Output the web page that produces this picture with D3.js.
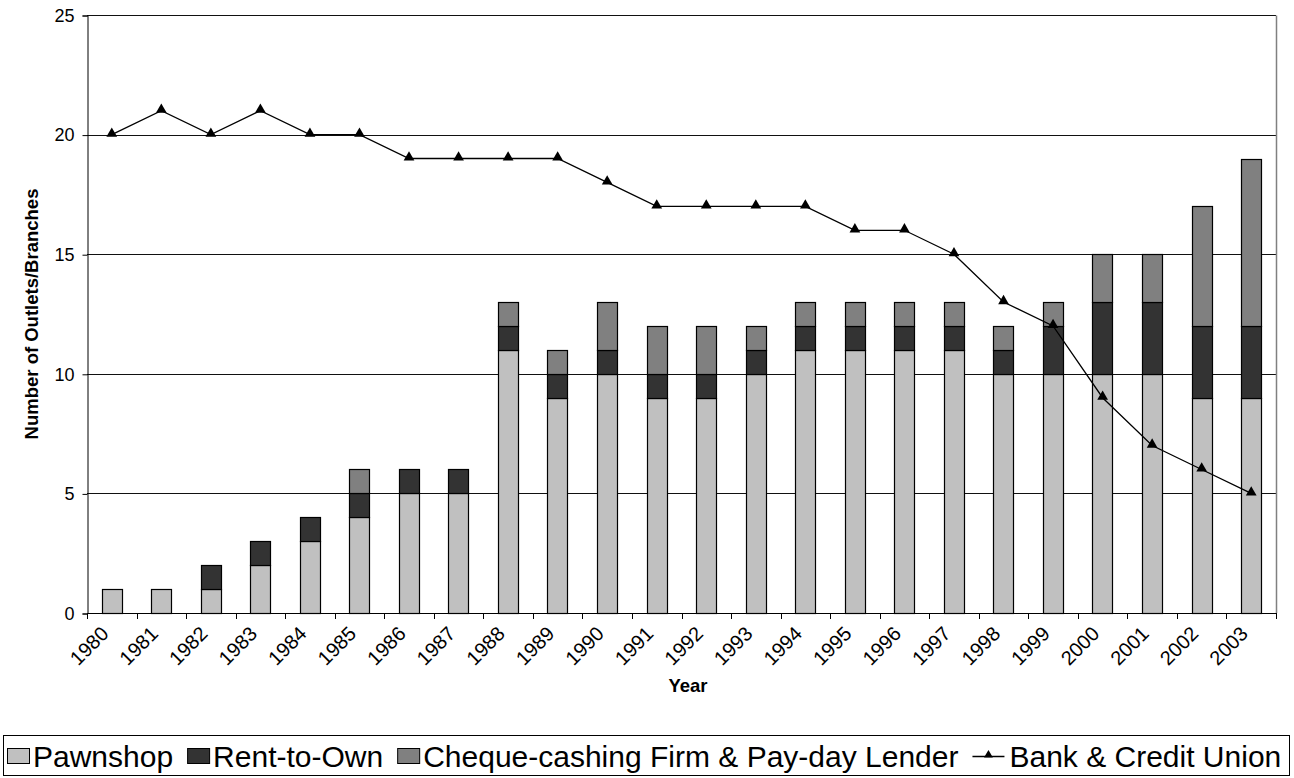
<!DOCTYPE html>
<html>
<head>
<meta charset="utf-8">
<script src="https://cdn.jsdelivr.net/npm/d3@7"></script>
<style>
  html, body { margin: 0; padding: 0; background: #fff; }
  svg { display: block; font-family: "Liberation Sans", Arial, sans-serif; }
</style>
</head>
<body>
<svg id="chart" width="1294" height="778"></svg>
<script>
// Outlets and branches per year
const years = ["1980","1981","1982","1983","1984","1985","1986","1987","1988","1989","1990","1991",
               "1992","1993","1994","1995","1996","1997","1998","1999","2000","2001","2002","2003"];
const pawnshop     = [1, 1, 1, 2, 3, 4, 5, 5, 11, 9, 10, 9, 9, 10, 11, 11, 11, 11, 10, 10, 10, 10, 9, 9];
const rentToOwn    = [0, 0, 1, 1, 1, 1, 1, 1, 1, 1, 1, 1, 1, 1, 1, 1, 1, 1, 1, 2, 3, 3, 3, 3];
const chequeCash   = [0, 0, 0, 0, 0, 1, 0, 0, 1, 1, 2, 2, 2, 1, 1, 1, 1, 1, 1, 1, 2, 2, 5, 7];
const bankCredit   = [20, 21, 20, 21, 20, 20, 19, 19, 19, 19, 18, 17, 17, 17, 17, 16, 16, 15, 13, 12, 9, 7, 6, 5];
const yTicks       = [0, 5, 10, 15, 20, 25];

const seriesNames  = ["Pawnshop", "Rent-to-Own", "Cheque-cashing Firm & Pay-day Lender"];
const lineName     = "Bank & Credit Union";
const fills        = ["#C0C0C0", "#333333", "#808080"];

const svg = d3.select("#chart");
const plot = { left: 87, right: 1276, top: 15, bottom: 613 };

const x = d3.scaleBand().domain(years).range([plot.left, plot.right]).padding(0);
const y = d3.scaleLinear().domain([0, 25]).range([plot.bottom, plot.top]);
const barW = x.bandwidth() * 0.41;

// Horizontal gridlines
svg.append("g").selectAll("line").data(yTicks.filter(d => d > 0)).join("line")
  .attr("x1", plot.left).attr("x2", plot.right)
  .attr("y1", d => Math.round(y(d)) + 0.5).attr("y2", d => Math.round(y(d)) + 0.5)
  .attr("stroke", "#111").attr("stroke-width", 1);

// Right border of plot area
svg.append("line")
  .attr("x1", plot.right + 0.5).attr("x2", plot.right + 0.5)
  .attr("y1", Math.round(y(25)) + 0.5).attr("y2", plot.bottom)
  .attr("stroke", "#808080").attr("stroke-width", 1.5);

// Stacked bars
const rows = years.map((yr, i) => ({ year: yr, s0: pawnshop[i], s1: rentToOwn[i], s2: chequeCash[i] }));
const stacked = d3.stack().keys(["s0", "s1", "s2"])(rows);

svg.append("g").selectAll("g").data(stacked).join("g")
  .attr("fill", (d, i) => fills[i])
  .selectAll("rect").data(d => d.filter(p => p[1] - p[0] > 0)).join("rect")
  .attr("x", d => Math.round(x(d.data.year) + (x.bandwidth() - barW) / 2) + 0.5)
  .attr("width", Math.round(barW))
  .attr("y", d => Math.round(y(d[1])) + 0.5)
  .attr("height", d => Math.round(y(d[0])) - Math.round(y(d[1])))
  .attr("stroke", "#000").attr("stroke-width", 1.2);

// Y axis
const yAxis = d3.axisLeft(y).tickValues(yTicks).tickSize(5).tickPadding(8);
const gy = svg.append("g").attr("transform", `translate(${plot.left + 0.5},0.5)`).call(yAxis);
gy.select(".domain").attr("stroke", "#000");
gy.selectAll(".tick line").attr("stroke", "#000");
gy.selectAll(".tick text").attr("font-size", 18).attr("fill", "#000")
  .attr("font-family", "'Liberation Sans', Arial, sans-serif");

// X axis: baseline and boundary ticks
svg.append("line")
  .attr("x1", plot.left).attr("x2", plot.right + 1)
  .attr("y1", plot.bottom + 0.5).attr("y2", plot.bottom + 0.5)
  .attr("stroke", "#000");
const edges = years.map(d => x(d)).concat([plot.right]);
svg.append("g").selectAll("line").data(edges).join("line")
  .attr("x1", d => Math.round(d) + 0.5).attr("x2", d => Math.round(d) + 0.5)
  .attr("y1", plot.bottom).attr("y2", plot.bottom + 6)
  .attr("stroke", "#000");

// X tick labels, rotated
svg.append("g").selectAll("text").data(years).join("text")
  .attr("transform", d => `translate(${x(d) + x.bandwidth() / 2 - 2},${plot.bottom + 22}) rotate(-45)`)
  .attr("text-anchor", "end")
  .attr("font-size", 20).attr("fill", "#000")
  .text(d => d);

// Line series with triangle markers
const cx = d => x(d) + x.bandwidth() / 2;
svg.append("path")
  .datum(bankCredit)
  .attr("fill", "none").attr("stroke", "#000").attr("stroke-width", 1.3)
  .attr("d", d3.line().x((v, i) => cx(years[i])).y(v => y(v)));
const tri = d3.symbol().type(d3.symbolTriangle).size(50);
svg.append("g").selectAll("path").data(bankCredit).join("path")
  .attr("transform", (v, i) => `translate(${cx(years[i])},${y(v) - 1})`)
  .attr("d", tri).attr("fill", "#000");

// Axis titles
svg.append("text")
  .attr("transform", `translate(38,${(plot.top + plot.bottom) / 2}) rotate(-90)`)
  .attr("text-anchor", "middle").attr("font-size", 18.5).attr("font-weight", "bold")
  .text("Number of Outlets/Branches");
svg.append("text")
  .attr("x", 688).attr("y", 692)
  .attr("text-anchor", "middle").attr("font-size", 18.5).attr("font-weight", "bold")
  .text("Year");

// Legend
const lg = svg.append("g");
lg.append("rect").attr("x", 3.5).attr("y", 735.5).attr("width", 1286).attr("height", 40)
  .attr("fill", "#fff").attr("stroke", "#000").attr("stroke-width", 1);
const legendFont = 30;
const legendY = 756;
let cursor = 7;
seriesNames.forEach((name, i) => {
  lg.append("rect").attr("x", cursor + 0.5).attr("y", legendY - 7.5).attr("width", 22).attr("height", 15)
    .attr("fill", fills[i]).attr("stroke", "#000");
  cursor += 26;
  const t = lg.append("text").attr("x", cursor).attr("y", legendY).attr("dy", "0.35em")
    .attr("font-size", legendFont).text(name);
  cursor += t.node().getComputedTextLength() + 14;
});
lg.append("line").attr("x1", cursor).attr("x2", cursor + 32).attr("y1", legendY + 0.5).attr("y2", legendY + 0.5)
  .attr("stroke", "#000").attr("stroke-width", 1.3);
lg.append("path").attr("transform", `translate(${cursor + 16},${legendY - 1})`)
  .attr("d", d3.symbol().type(d3.symbolTriangle).size(34)).attr("fill", "#000");
cursor += 37;
lg.append("text").attr("x", cursor).attr("y", legendY).attr("dy", "0.35em")
  .attr("font-size", legendFont).text(lineName);
</script>
</body>
</html>
